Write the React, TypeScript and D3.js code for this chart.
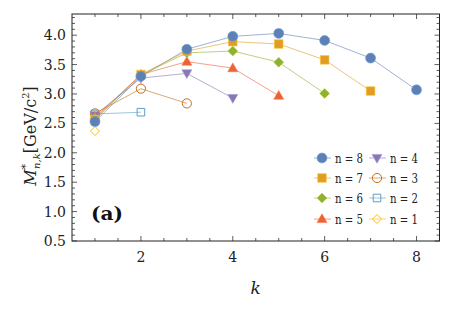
import * as d3 from "d3";
import React from "react";

// masses M*_{n,k}, index i -> k = i + 1
const n8 = [2.53, 3.3, 3.76, 3.98, 4.03, 3.91, 3.61, 3.07];
const n7 = [2.56, 3.33, 3.73, 3.89, 3.85, 3.58, 3.05];
const n6 = [2.58, 3.32, 3.7, 3.73, 3.54, 3.01];
const n5 = [2.6, 3.33, 3.55, 3.44, 2.97];
const n4 = [2.64, 3.27, 3.35, 2.93];
const n3 = [2.67, 3.09, 2.84];
const n2 = [2.66, 2.69];
const n1 = [2.37];

const xTicks = [2, 4, 6, 8];
const yTicks = [0.5, 1.0, 1.5, 2.0, 2.5, 3.0, 3.5, 4.0];

type Shape = "circle" | "square" | "diamond" | "triangle" | "triangleDown";

interface Series {
  label: string;
  values: number[];
  color: string;
  shape: Shape;
  filled: boolean;
}

const series: Series[] = [
  { label: "n = 8", values: n8, color: "#5E81B5", shape: "circle", filled: true },
  { label: "n = 7", values: n7, color: "#E19C24", shape: "square", filled: true },
  { label: "n = 6", values: n6, color: "#8FB032", shape: "diamond", filled: true },
  { label: "n = 5", values: n5, color: "#EB6235", shape: "triangle", filled: true },
  { label: "n = 4", values: n4, color: "#8778B3", shape: "triangleDown", filled: true },
  { label: "n = 3", values: n3, color: "#C56E1A", shape: "circle", filled: false },
  { label: "n = 2", values: n2, color: "#5D9EC7", shape: "square", filled: false },
  { label: "n = 1", values: n1, color: "#FFBF00", shape: "diamond", filled: false },
];

const serif = { fontFamily: "'DejaVu Serif', serif" };

function markerPath(shape: Shape, filled: boolean) {
  switch (shape) {
    case "circle": {
      const r = filled ? 5 : 4.6;
      return `M${-r},0a${r},${r} 0 1,0 ${2 * r},0a${r},${r} 0 1,0 ${-2 * r},0z`;
    }
    case "square": {
      const h = filled ? 4.3 : 3.8;
      return `M${-h},${-h}H${h}V${h}H${-h}z`;
    }
    case "diamond": {
      const h = filled ? 5 : 4.5;
      return `M0,${-h}L${h},0L0,${h}L${-h},0z`;
    }
    case "triangle":
      return "M0,-5.2L5,3.6L-5,3.6z";
    case "triangleDown":
      return "M0,5.2L5,-3.6L-5,-3.6z";
  }
}

function Marker({ s, x, y }: { s: Series; x: number; y: number }) {
  return (
    <path
      d={markerPath(s.shape, s.filled)}
      transform={`translate(${x},${y})`}
      fill={s.filled ? s.color : "none"}
      stroke={s.filled ? d3.color(s.color)!.brighter(0.6).toString() : s.color}
      strokeWidth={s.filled ? 0.6 : 1}
    />
  );
}

export default function App() {
  const left = 72;
  const right = 439.5;
  const top = 14;
  const bottom = 241;

  const x = d3.scaleLinear().domain([0.5, 8.5]).range([left, right]);
  const y = d3.scaleLinear().domain([0.5, 4.36]).range([bottom, top]);

  const line = d3
    .line<number>()
    .x((_, i) => x(i + 1))
    .y((d) => y(d));

  const xMinor = d3.range(1, 8.01, 0.5);
  const yMinor = d3.range(0.5, 4.36, 0.1);

  const legendRows = [158, 178, 198, 219];
  const legendCols = [322, 377];

  return (
    <svg
      width={454}
      height={315}
      style={{ position: "absolute", left: 0, top: 0, background: "#fff" }}
    >
      {/* ticks on all four sides of the frame */}
      <g stroke="#333" strokeWidth={0.8}>
        {xMinor.map((t) => {
          const major = xTicks.includes(t);
          const len = major ? 5 : 3;
          return (
            <g key={`xt-${t}`}>
              <line x1={x(t)} x2={x(t)} y1={bottom} y2={bottom - len} />
              <line x1={x(t)} x2={x(t)} y1={top} y2={top + len} />
            </g>
          );
        })}
        {yMinor.map((t, i) => {
          const major = i % 5 === 0;
          const len = major ? 5 : 3;
          return (
            <g key={`yt-${i}`}>
              <line x1={left} x2={left + len} y1={y(t)} y2={y(t)} />
              <line x1={right} x2={right - len} y1={y(t)} y2={y(t)} />
            </g>
          );
        })}
      </g>
      <rect
        x={left}
        y={top}
        width={right - left}
        height={bottom - top}
        fill="none"
        stroke="#222"
        strokeWidth={1}
      />

      {xTicks.map((t) => (
        <text key={`xl-${t}`} x={x(t)} y={bottom + 21} textAnchor="middle" fontSize={14} fill="#222" style={serif}>
          {t}
        </text>
      ))}
      {yTicks.map((t) => (
        <text key={`yl-${t}`} x={left - 6} y={y(t) + 5} textAnchor="end" fontSize={14} fill="#222" style={serif}>
          {t.toFixed(1)}
        </text>
      ))}

      <text x={x(4.5)} y={294} textAnchor="middle" fontSize={17} fontStyle="italic" fill="#222" style={serif}>
        k
      </text>
      <text transform="translate(36,136) rotate(-90)" textAnchor="middle" fontSize={16} fill="#222" style={serif}>
        <tspan fontStyle="italic">M</tspan>
        <tspan dy={-7} fontSize={11}>*</tspan>
        <tspan dx={-5} dy={11} fontSize={10} fontStyle="italic">n,k</tspan>
        <tspan dy={-4}>[GeV/c</tspan>
        <tspan dy={-7} fontSize={10}>2</tspan>
        <tspan dy={7}>]</tspan>
      </text>

      <text
        x={91}
        y={220}
        fontSize={18}
        fontWeight="bold"
        fill="#111"
        style={serif}
        textLength={32}
        lengthAdjust="spacingAndGlyphs"
      >
        (a)
      </text>

      {/* lines */}
      {series.map((s) => (
        <path
          key={`line-${s.label}`}
          d={line(s.values) || ""}
          fill="none"
          stroke={s.color}
          strokeOpacity={0.6}
          strokeWidth={1}
        />
      ))}
      {/* markers, drawn from n = 1 up so the larger n sit on top like the original */}
      {series
        .slice()
        .reverse()
        .map((s) =>
          s.values.map((v, i) => (
            <Marker key={`m-${s.label}-${i}`} s={s} x={x(i + 1)} y={y(v)} />
          ))
        )}

      {/* legend */}
      {series.map((s, i) => {
        const cx = legendCols[Math.floor(i / 4)];
        const cy = legendRows[i % 4];
        return (
          <g key={`leg-${s.label}`}>
            <line x1={cx - 8} x2={cx + 9} y1={cy} y2={cy} stroke={s.color} strokeOpacity={0.6} />
            <Marker s={s} x={cx} y={cy} />
            <text
              x={cx + 13}
              y={cy + 5}
              fontSize={13}
              fill="#222"
              style={serif}
              textLength={28}
              lengthAdjust="spacingAndGlyphs"
            >
              {s.label}
            </text>
          </g>
        );
      })}
    </svg>
  );
}
